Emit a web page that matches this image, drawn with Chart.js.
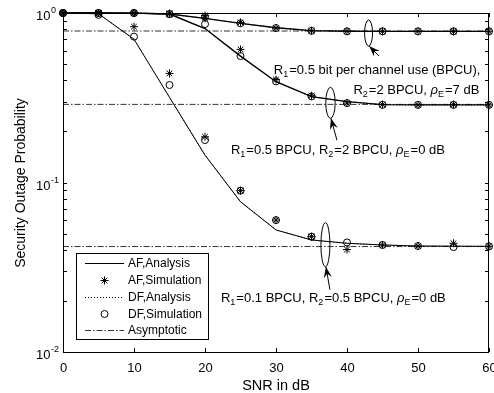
<!DOCTYPE html>
<html>
<head>
<meta charset="utf-8">
<script src="https://cdn.jsdelivr.net/npm/chart.js@4.4.1/dist/chart.umd.min.js"></script>
<style>
  html, body { margin: 0; padding: 0; background: #fff; }
  #wrap { width: 494px; height: 393px; }
</style>
</head>
<body>
<div id="wrap"><canvas id="chart"></canvas></div>
<script>
// SNR em dB (eixo x)
var snr = [0, 5, 10, 15, 20, 25, 30, 35, 40, 45, 50, 55, 60];

// R1=0.5, R2=2, rhoE=7 dB
var anaA = [1, 1, 0.998, 0.986, 0.93, 0.869, 0.819, 0.787, 0.78, 0.779, 0.779, 0.779, 0.779];
var afSimA = [1, 1, 1, 0.99, 0.965, 0.88, 0.815, 0.785, 0.78, 0.78, 0.78, 0.78, 0.78];
var dfSimA = [1, 1, 1, 0.985, 0.95, 0.87, 0.815, 0.785, 0.78, 0.78, 0.78, 0.78, 0.78];
var asymA = 0.783;

// R1=0.5, R2=2, rhoE=0 dB
var anaB = [1, 1, 0.998, 0.986, 0.81, 0.557, 0.393, 0.321, 0.3, 0.288, 0.287, 0.287, 0.287];
var afSimB = [1, 1, 1, 0.99, 0.93, 0.61, 0.405, 0.325, 0.294, 0.288, 0.287, 0.288, 0.287];
var dfSimB = [1, 1, 1, 0.985, 0.86, 0.557, 0.395, 0.322, 0.294, 0.287, 0.287, 0.287, 0.287];
var asymB = 0.289;

// R1=0.1, R2=0.5, rhoE=0 dB
var anaC = [1, 0.99, 0.70, 0.318, 0.145, 0.077, 0.0525, 0.0458, 0.0438, 0.0428, 0.0422, 0.0421, 0.042];
var afSimC = [1, 1, 0.83, 0.44, 0.186, 0.0895, 0.060, 0.0479, 0.0402, 0.0428, 0.0422, 0.0438, 0.042];
var dfSimC = [1, 0.975, 0.725, 0.376, 0.178, 0.0895, 0.060, 0.0479, 0.0443, 0.0428, 0.0422, 0.0416, 0.042];
var asymC = 0.0419;

// rotulos dos eixos
var xTicks = [0, 10, 20, 30, 40, 50, 60];
var yTicks = [1, 0.1, 0.01];
var yTickExps = ['0', '-1', '-2'];
var legendLabels = ['AF,Analysis', 'AF,Simulation', 'DF,Analysis', 'DF,Simulation', 'Asymptotic'];

var FONT = '"Liberation Sans", Arial, Helvetica, sans-serif';

function pts(ys) {
  return snr.map(function(x, i) { return { x: x, y: ys[i] }; });
}
function flat(v) {
  return [{ x: snr[0], y: v }, { x: snr[snr.length - 1], y: v }];
}

function anaLine(ys, w) {
  return { data: pts(ys), borderColor: '#000', borderWidth: w, pointRadius: 0, order: 2 };
}
function dfLine(ys) {
  return { data: pts(ys), borderColor: '#000', borderWidth: 1, borderDash: [1, 2], pointRadius: 0, order: 3 };
}
function starSet(ys) {
  return { data: pts(ys), showLine: false, pointStyle: 'star', pointRadius: 4, borderColor: '#000',
           borderWidth: 1, backgroundColor: 'rgba(0,0,0,0)', order: 1 };
}
function circSet(ys) {
  return { data: pts(ys), showLine: false, pointStyle: 'circle', pointRadius: 3.5, borderColor: '#000',
           borderWidth: 1, backgroundColor: 'rgba(0,0,0,0)', order: 1 };
}
function asymLine(v) {
  return { data: flat(v), borderColor: '#333', borderWidth: 1, borderDash: [6, 2, 1.5, 2], pointRadius: 0, order: 4 };
}

// textos das anotacoes (posicao em coordenadas de dados)
var notes = [
  { text: 'R_1=0.5 bit per channel use (BPCU),', x: 29.7, y: 0.461 },
  { text: 'R_2=2 BPCU, ρ_E=7 dB', x: 40.9, y: 0.351 },
  { text: 'R_1=0.5 BPCU, R_2=2 BPCU, ρ_E=0 dB', x: 23.65, y: 0.1555 },
  { text: 'R_1=0.1 BPCU, R_2=0.5 BPCU, ρ_E=0 dB', x: 22.25, y: 0.0208 }
];
// elipses com seta
var ellipses = [
  { x: 43.04, y: 0.762, rx: 4, ry: 13, dx: 10, dy: 10 },
  { x: 37.67, y: 0.2953, rx: 4.7, ry: 15.5, dx: 6, dy: 22 },
  { x: 36.96, y: 0.04296, rx: 4.5, ry: 22, dx: 4, dy: 23 }
];

// desenha texto com subscritos (R_1, rho_E)
function drawRich(ctx, str, x, y, size) {
  var i = 0;
  ctx.textBaseline = 'middle';
  ctx.textAlign = 'left';
  while (i < str.length) {
    var ch = str[i];
    if (ch === '_') {
      var s = str[i + 1];
      ctx.font = Math.round(size * 0.72) + 'px ' + FONT;
      ctx.fillText(s, x, y + size * 0.35);
      x += ctx.measureText(s).width + 1;
      i += 2;
      continue;
    }
    if (ch === 'ρ') {
      ctx.font = 'italic ' + size + 'px ' + FONT;
    } else {
      ctx.font = size + 'px ' + FONT;
    }
    ctx.fillText(ch, x, y);
    x += ctx.measureText(ch).width;
    i++;
  }
}

function arrowHead(ctx, tx, ty, fx, fy) {
  var ang = Math.atan2(ty - fy, tx - fx);
  var len = 11, half = 4;
  ctx.save();
  ctx.translate(tx, ty);
  ctx.rotate(ang);
  ctx.beginPath();
  ctx.moveTo(0, 0);
  ctx.lineTo(-len, -half);
  ctx.lineTo(-len * 0.65, 0);
  ctx.lineTo(-len, half);
  ctx.closePath();
  ctx.fill();
  ctx.restore();
}

var overlay = {
  id: 'overlay',
  afterDraw: function(chart) {
    var ctx = chart.ctx, a = chart.chartArea;
    var xs = chart.scales.x, ys = chart.scales.y;
    ctx.save();
    ctx.strokeStyle = '#000';
    ctx.fillStyle = '#000';
    ctx.lineWidth = 1;

    // moldura
    ctx.strokeRect(a.left + 0.5, a.top + 0.5, a.right - a.left - 1, a.bottom - a.top);

    // ticks do eixo x (para dentro, em baixo e em cima)
    ctx.font = '13px ' + FONT;
    ctx.textAlign = 'center';
    ctx.textBaseline = 'middle';
    xTicks.forEach(function(v) {
      var px = Math.round(xs.getPixelForValue(v)) + 0.5;
      ctx.beginPath();
      ctx.moveTo(px, a.bottom); ctx.lineTo(px, a.bottom - 4);
      ctx.moveTo(px, a.top); ctx.lineTo(px, a.top + 4);
      ctx.stroke();
      ctx.fillText(String(v), px, a.bottom + 16);
    });

    // ticks do eixo y: maiores e menores
    var yMinor = [];
    [0.01, 0.1].forEach(function(d) {
      for (var m = 2; m <= 9; m++) yMinor.push(d * m);
    });
    yTicks.concat(yMinor).forEach(function(v) {
      var py = Math.round(ys.getPixelForValue(v)) + 0.5;
      ctx.beginPath();
      ctx.moveTo(a.left, py); ctx.lineTo(a.left + 4, py);
      ctx.moveTo(a.right, py); ctx.lineTo(a.right - 4, py);
      ctx.stroke();
    });
    yTicks.forEach(function(v, i) {
      var py = ys.getPixelForValue(v);
      ctx.textAlign = 'left';
      ctx.font = '13px ' + FONT;
      ctx.fillText('10', 36, py + 3.5);
      var w = ctx.measureText('10').width;
      ctx.font = '9px ' + FONT;
      ctx.fillText(yTickExps[i], 36 + w + 0.5, py - 2);
    });

    // titulos dos eixos
    ctx.font = '14.5px ' + FONT;
    ctx.textAlign = 'center';
    ctx.fillText('SNR in dB', (a.left + a.right) / 2, 386);
    ctx.save();
    ctx.font = '14px ' + FONT;
    ctx.translate(21, 183);
    ctx.rotate(-Math.PI / 2);
    ctx.fillText('Security Outage Probability', 0, 0);
    ctx.restore();

    // anotacoes
    notes.forEach(function(n) {
      drawRich(ctx, n.text, xs.getPixelForValue(n.x), ys.getPixelForValue(n.y), 13);
    });
    ellipses.forEach(function(e) {
      var cx = xs.getPixelForValue(e.x), cy = ys.getPixelForValue(e.y);
      ctx.beginPath();
      ctx.ellipse(cx, cy, e.rx, e.ry, 0, 0, Math.PI * 2);
      ctx.stroke();
      var tx = cx + 0.5, ty = cy + e.ry;
      var fx = tx + e.dx, fy = ty + e.dy;
      ctx.beginPath();
      ctx.moveTo(fx, fy); ctx.lineTo(tx, ty);
      ctx.stroke();
      arrowHead(ctx, tx, ty, fx, fy);
    });

    // legenda dentro do grafico
    var L = 76.5, T = 253.5, R = 208.5, B = 339.5;
    ctx.fillStyle = '#fff';
    ctx.fillRect(L, T, R - L, B - T);
    ctx.strokeStyle = '#000';
    ctx.strokeRect(L, T, R - L, B - T);
    ctx.fillStyle = '#000';
    ctx.font = '12px ' + FONT;
    ctx.textAlign = 'left';
    ctx.textBaseline = 'middle';
    var rowY = [263, 280, 297, 313.5, 330];
    legendLabels.forEach(function(lbl, i) {
      var y = rowY[i] + 0.5;
      ctx.beginPath();
      if (i === 0 || i === 2 || i === 4) {
        ctx.setLineDash(i === 0 ? [] : (i === 2 ? [1, 2] : [6, 2, 1.5, 2]));
        ctx.strokeStyle = i === 4 ? '#333' : '#000';
        ctx.moveTo(85, y); ctx.lineTo(124, y);
        ctx.stroke();
        ctx.setLineDash([]);
        ctx.strokeStyle = '#000';
      } else if (i === 1) {
        Chart.helpers.drawPoint(ctx, { pointStyle: 'star', radius: 4, borderWidth: 1 }, 104.5, y);
      } else {
        ctx.beginPath();
        ctx.arc(104.5, y, 3.5, 0, Math.PI * 2);
        ctx.stroke();
      }
      ctx.fillText(lbl, 128, rowY[i] + 1);
    });
    ctx.restore();
  }
};

var ctx = document.getElementById('chart').getContext('2d');
var chart = new Chart(ctx, {
  type: 'line',
  data: {
    datasets: [
      starSet(afSimA), circSet(dfSimA),
      starSet(afSimB), circSet(dfSimB),
      starSet(afSimC), circSet(dfSimC),
      anaLine(anaA, 1.4), anaLine(anaB, 1.4), anaLine(anaC, 1),
      dfLine(anaA), dfLine(anaB), dfLine(anaC),
      asymLine(asymA), asymLine(asymB), asymLine(asymC)
    ]
  },
  options: {
    responsive: true,
    maintainAspectRatio: false,
    animation: false,
    devicePixelRatio: 1,
    clip: false,
    layout: { padding: { left: 63, right: 3, top: 13, bottom: 41 } },
    elements: { line: { tension: 0 } },
    scales: {
      x: { type: 'linear', min: 0, max: 60, display: false },
      y: { type: 'logarithmic', min: 0.01, max: 1, display: false }
    },
    plugins: {
      legend: { display: false },
      tooltip: { enabled: false }
    }
  },
  plugins: [overlay]
});
</script>
</body>
</html>
